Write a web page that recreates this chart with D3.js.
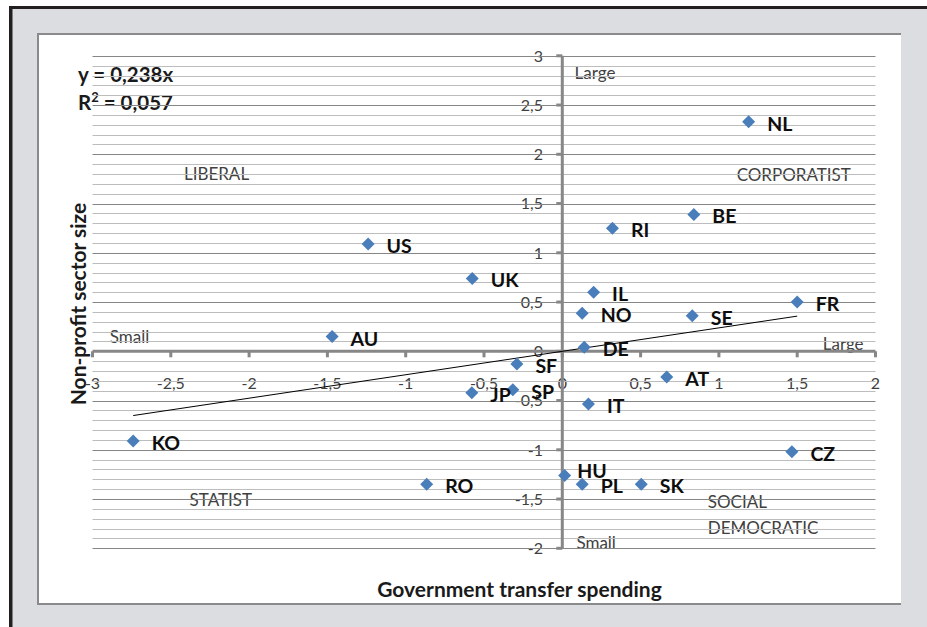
<!DOCTYPE html>
<html><head><meta charset="utf-8">
<script src="https://cdn.jsdelivr.net/npm/d3@7"></script>
<style>body{margin:0;background:#fff} svg{display:block}</style>
</head><body>
<svg id="c" width="927" height="627"></svg>
<script>
// ---- data ----
const countries = ["NL","BE","RI","US","UK","IL","NO","SE","FR","AU","DE","SF","AT","JP","SP","IT","KO","CZ","HU","PL","SK","RO"];
const transferSpending = [1.19,0.84,0.32,-1.24,-0.575,0.20,0.127,0.83,1.50,-1.47,0.14,-0.29,0.667,-0.578,-0.316,0.167,-2.74,1.466,0.015,0.127,0.504,-0.866];
const nonprofitSize   = [2.33,1.39,1.25,1.09,0.74,0.60,0.386,0.36,0.50,0.15,0.04,-0.13,-0.26,-0.42,-0.39,-0.535,-0.91,-1.02,-1.26,-1.35,-1.35,-1.35];
const xTicks = [-3,-2.5,-2,-1.5,-1,-0.5,0,0.5,1,1.5,2];
const yTicks = [-2,-1.5,-1,-0.5,0,0.5,1,1.5,2,2.5,3];
const trendSlope = 0.238;
const rSquared = 0.057;
const quadrantNames = ["LIBERAL","CORPORATIST","STATIST","SOCIAL","DEMOCRATIC"];
const quadrantAt = [[-2.208,1.80,"middle"],[1.478,1.79,"middle"],[-2.38,-1.51,"start"],[0.929,-1.527,"start"],[0.929,-1.797,"start"]];
const sizeNotes = ["Large","Small","Large","Small"];
const sizeNotesAt = [[0.078,2.83],[-2.89,0.148],[1.663,0.074],[0.09,-1.946]];
const xTitle = "Government transfer spending";
const yTitle = "Non-profit sector size";

// ---- layout ----
const svg = d3.select("#c");
const W = 927, H = 627;
const locale = d3.formatLocale({decimal:",", thousands:".", grouping:[3], currency:["",""]});
const fmt = v => locale.format("")(v).replace("−","-");
const fmt3 = locale.format(".3f");

const x = d3.scaleLinear().domain([-3,2]).range([92.5,875.5]);
const y = d3.scaleLinear().domain([-2,3]).range([548.3,55.8]);

// outer frame
svg.append("rect").attr("x",9).attr("y",6).attr("width",W-9).attr("height",H-6).attr("fill","#231f20");
svg.append("rect").attr("x",12.5).attr("y",9).attr("width",W-12.5).attr("height",H-9).attr("fill","#dcdde0");
// inner panel (grey edge on top, left, bottom)
svg.append("rect").attr("x",37).attr("y",33).attr("width",864).attr("height",572).attr("fill","#8a8a8c");
svg.append("rect").attr("x",39).attr("y",35).attr("width",862).attr("height",568).attr("fill","#fff");

const FONT = "Lato, 'Open Sans', sans-serif";

// quadrant labels (under gridlines)
const gText = svg.append("g").attr("font-family",FONT).attr("fill","#404040");
gText.selectAll("text.q").data(quadrantNames).join("text")
  .attr("x",(d,i)=>x(quadrantAt[i][0])).attr("y",(d,i)=>y(quadrantAt[i][1]))
  .attr("dy","0.36em").attr("text-anchor",(d,i)=>quadrantAt[i][2])
  .attr("font-size",17).text(d=>d);
gText.selectAll("text.s").data(sizeNotes).join("text")
  .attr("x",(d,i)=>x(sizeNotesAt[i][0])).attr("y",(d,i)=>y(sizeNotesAt[i][1]))
  .attr("dy","0.36em").attr("font-size",17).text(d=>d);

// equation
const eq = svg.append("g").attr("font-family",FONT).attr("font-weight","bold").attr("font-size",20.5).attr("fill","#1a1a1a");
eq.append("text").attr("x",78).attr("y",82).text("y = " + fmt3(trendSlope) + "x");
const r2 = eq.append("text").attr("x",78).attr("y",110);
r2.append("tspan").text("R");
r2.append("tspan").attr("font-size",13).attr("dy",-8).text("2");
r2.append("tspan").attr("dy",8).text(" = " + fmt3(rSquared));

// tick labels
const tl = svg.append("g").attr("font-family",FONT).attr("font-size",16).attr("fill","#404040");
tl.selectAll("text.x").data(xTicks).join("text")
  .attr("x",d=>x(d)).attr("y",389).attr("text-anchor","middle").text(fmt);
tl.selectAll("text.y").data(yTicks).join("text")
  .attr("x",543).attr("y",d=>y(d)).attr("dy","0.36em").attr("text-anchor","end").text(fmt);

// gridlines
const gridVals = d3.range(-20,31).map(i=>i/10);
svg.append("g").selectAll("line").data(gridVals).join("line")
  .attr("x1",x(-3)).attr("x2",x(2))
  .attr("y1",d=>Math.round(y(d))+0.5).attr("y2",d=>Math.round(y(d))+0.5)
  .attr("stroke",(d,i)=> (Math.round(d*10)%5===0) ? "#868686" : "#bdbdbd")
  .attr("stroke-width",1);

// axes (crossing at 0)
const ax = svg.append("g").attr("stroke","#878787").attr("stroke-width",3);
ax.append("line").attr("x1",x(-3)).attr("x2",x(2)).attr("y1",y(0)).attr("y2",y(0));
ax.append("line").attr("x1",x(0)).attr("x2",x(0)).attr("y1",y(3)).attr("y2",y(-2));
ax.selectAll("line.xt").data(xTicks).join("line").attr("class","xt")
  .attr("x1",d=>x(d)).attr("x2",d=>x(d)).attr("y1",y(0)).attr("y2",y(0)+6);
ax.selectAll("line.yt").data(yTicks).join("line").attr("class","yt")
  .attr("x1",x(0)-6).attr("x2",x(0)).attr("y1",d=>y(d)).attr("y2",d=>y(d));

// trendline
const xs = d3.extent(transferSpending);
svg.append("line").attr("x1",x(xs[0])).attr("y1",y(trendSlope*xs[0]))
  .attr("x2",x(xs[1])).attr("y2",y(trendSlope*xs[1]))
  .attr("stroke","#000").attr("stroke-width",1);

// markers
const pts = countries.map((c,i)=>({c, vx:transferSpending[i], vy:nonprofitSize[i]}));
const r = 6.5;
svg.append("g").selectAll("path").data(pts).join("path")
  .attr("d",d=>`M${x(d.vx)},${y(d.vy)-r}L${x(d.vx)+r},${y(d.vy)}L${x(d.vx)},${y(d.vy)+r}L${x(d.vx)-r},${y(d.vy)}Z`)
  .attr("fill","#4a7ebb");

// data labels
const nudge = {HU:[-6,-6]};
svg.append("g").attr("font-family",FONT).attr("font-weight","bold").attr("font-size",19.5).attr("fill","#0d0d0d")
  .selectAll("text").data(pts).join("text")
  .attr("x",d=>x(d.vx)+18.5+((nudge[d.c]||[0,0])[0]))
  .attr("y",d=>y(d.vy)+2+((nudge[d.c]||[0,0])[1]))
  .attr("dy","0.36em").text(d=>d.c);

// axis titles
const at = svg.append("g").attr("font-family",FONT).attr("font-weight","bold").attr("font-size",21).attr("fill","#1a1a1a");
at.append("text").attr("x",519.5).attr("y",589).attr("dy","0.36em").attr("text-anchor","middle").text(xTitle);
at.append("text").attr("transform","translate(78,304) rotate(-90)").attr("dy","0.36em").attr("text-anchor","middle").text(yTitle);
</script>
</body></html>
